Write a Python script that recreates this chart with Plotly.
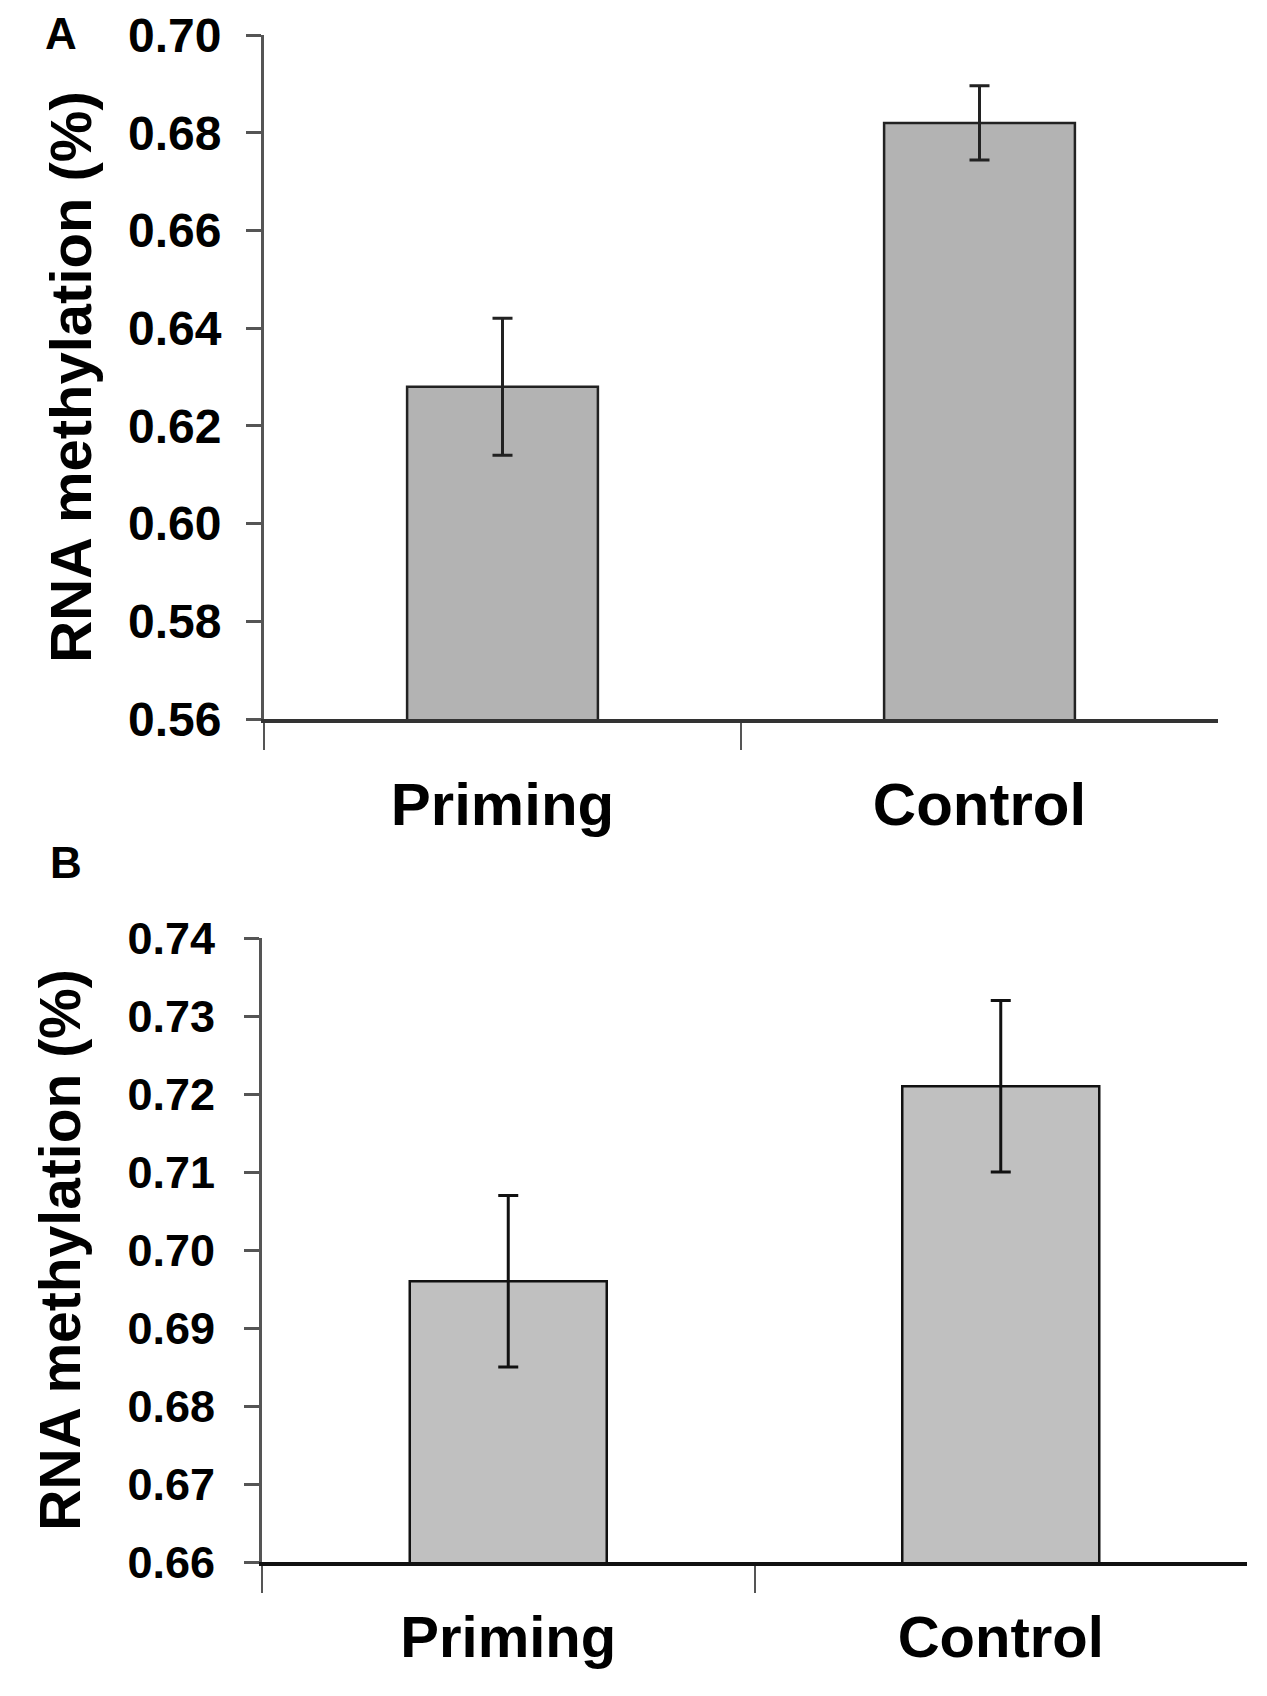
import plotly.graph_objects as go

categories = ["Priming", "Control"]
a_values = [0.628, 0.682]
a_errors = [0.014, 0.0076]
b_values = [0.696, 0.721]
b_errors = [0.011, 0.011]
a_ticks = [0.56, 0.58, 0.60, 0.62, 0.64, 0.66, 0.68, 0.70]
b_ticks = [0.66, 0.67, 0.68, 0.69, 0.70, 0.71, 0.72, 0.73, 0.74]
y_title = "RNA methylation (%)"

FONT = "Liberation Sans, Arial, sans-serif"
W, H = 1267, 1696
OFF = 8  # default body margin of the html page


def px_x(p):
    return (p - OFF) / W


def px_y(p):
    return 1 - (p - OFF) / H


fig = go.Figure()

fig.add_trace(go.Bar(
    x=categories, y=a_values, width=0.4,
    marker=dict(color="#b3b3b3", line=dict(color="#222222", width=2.5)),
    error_y=dict(type="data", array=a_errors, color="#222222", thickness=3, width=10),
    xaxis="x", yaxis="y", showlegend=False,
))
fig.add_trace(go.Bar(
    x=categories, y=b_values, width=0.4,
    marker=dict(color="#c0c0c0", line=dict(color="#111111", width=2.5)),
    error_y=dict(type="data", array=b_errors, color="#111111", thickness=3, width=10),
    xaxis="x2", yaxis="y2", showlegend=False,
))

xcommon = dict(
    type="category", tickson="boundaries", ticks="outside", ticklen=27,
    tickwidth=2, tickcolor="#555555", showline=True, linewidth=4,
    showgrid=False, zeroline=False, automargin=False,
)
ycommon = dict(
    ticks="outside", ticklen=15, tickwidth=3, tickcolor="#555555",
    showline=True, linecolor="#555555", linewidth=3, showgrid=False,
    zeroline=False, automargin=False, tickformat=".2f",
)

fig.update_layout(
    width=W, height=H, autosize=False,
    margin=dict(l=0, r=0, t=0, b=0),
    paper_bgcolor="white", plot_bgcolor="white",
    xaxis=dict(domain=[px_x(264), px_x(1218)], anchor="y", linecolor="#333333",
               ticklabelstandoff=30,
               tickfont=dict(family=FONT, size=60, color="black", weight="bold"),
               **xcommon),
    yaxis=dict(domain=[px_y(719), px_y(35)], anchor="x", range=[0.56, 0.70],
               tickvals=a_ticks, ticklabelstandoff=15,
               tickfont=dict(family=FONT, size=48, color="black", weight="bold"),
               title=dict(text=y_title, standoff=18,
                          font=dict(family=FONT, size=58, color="black", weight="bold")),
               **ycommon),
    xaxis2=dict(domain=[px_x(262), px_x(1247)], anchor="y2", linecolor="#111111",
                ticklabelstandoff=21,
                tickfont=dict(family=FONT, size=58, color="black", weight="bold"),
                **xcommon),
    yaxis2=dict(domain=[px_y(1562), px_y(938)], anchor="x2", range=[0.66, 0.74],
                tickvals=b_ticks, ticklabelstandoff=20,
                tickfont=dict(family=FONT, size=45, color="black", weight="bold"),
                title=dict(text=y_title, standoff=29,
                           font=dict(family=FONT, size=57, color="black", weight="bold")),
                **ycommon),
    annotations=[
        dict(text="A", x=px_x(44), y=1, xref="paper", yref="paper",
             xanchor="left", yanchor="top", showarrow=False, borderpad=0,
             font=dict(family=FONT, size=44, color="black", weight="bold")),
        dict(text="B", x=px_x(48), y=px_y(862), xref="paper", yref="paper",
             xanchor="left", yanchor="middle", showarrow=False,
             font=dict(family=FONT, size=44, color="black", weight="bold")),
    ],
)

fig.write_html("out.html")
